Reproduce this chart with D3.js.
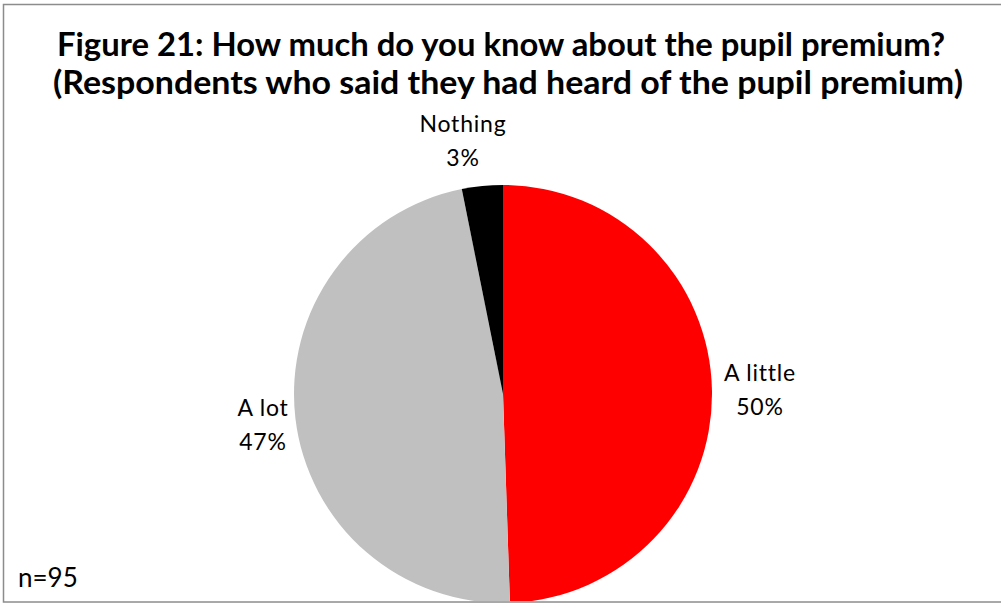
<!DOCTYPE html>
<html><head><meta charset="utf-8">
<script src="https://cdn.jsdelivr.net/npm/d3@7"></script>
<style>html,body{margin:0;padding:0;background:#fff;overflow:hidden}</style>
</head><body>
<svg id="c" width="1001" height="604"></svg>
<script>
const categories = ["A little", "A lot", "Nothing"];
const counts = [47, 45, 3];
const percentLabels = ["50%", "47%", "3%"];
const colors = ["#ff0000", "#c0c0c0", "#000000"];
const titleLines = ["Figure 21: How much do you know about the pupil premium?", "(Respondents who said they had heard of the pupil premium)"];
const note = "n=95";

const svg = d3.select("#c");
const font = "Lato, 'Open Sans', sans-serif";

svg.append("rect").attr("x", 3.5).attr("y", 4.5).attr("width", 1010).attr("height", 597.5)
  .attr("fill", "#fff").attr("stroke", "#8c8c8c").attr("stroke-width", 1.5);

svg.append("clipPath").attr("id", "clp").append("rect")
  .attr("x", 4).attr("y", 5).attr("width", 1000).attr("height", 596);

const cx = 503, cy = 394, r = 209;
const pie = d3.pie().sort(null).value(d => d)(counts);
const arc = d3.arc().innerRadius(0).outerRadius(r);
svg.append("g").attr("clip-path", "url(#clp)")
  .append("g").attr("transform", `translate(${cx},${cy})`)
  .selectAll("path").data(pie).join("path")
  .attr("d", arc).attr("fill", (d, i) => colors[i]);

const labelPos = [[760, 373], [263, 408], [463, 124]];
const lg = svg.append("g").attr("font-family", font).attr("font-size", 23).attr("fill", "#000").attr("text-anchor", "middle");
categories.forEach((c, i) => {
  lg.append("text").attr("x", labelPos[i][0]).attr("y", labelPos[i][1]).attr("dy", "0.35em")
    .attr("letter-spacing", 0.8).text(c);
  lg.append("text").attr("x", labelPos[i][0]).attr("y", labelPos[i][1] + 34).attr("dy", "0.35em")
    .attr("letter-spacing", 0.8).text(percentLabels[i]);
});

const tg = svg.append("g").attr("font-family", font).attr("font-weight", "bold").attr("font-size", 32).attr("text-anchor", "middle").attr("fill", "#000");
const tl = [[501, 45, 888], [508, 83, 910]];
titleLines.forEach((t, i) => {
  tg.append("text").attr("x", tl[i][0]).attr("y", tl[i][1]).attr("dy", "0.35em")
    .attr("textLength", tl[i][2]).attr("lengthAdjust", "spacingAndGlyphs").text(t);
});

svg.append("text").attr("x", 18).attr("y", 578).attr("dy", "0.35em")
  .attr("font-family", font).attr("font-size", 26).text(note);
</script>
</body></html>
